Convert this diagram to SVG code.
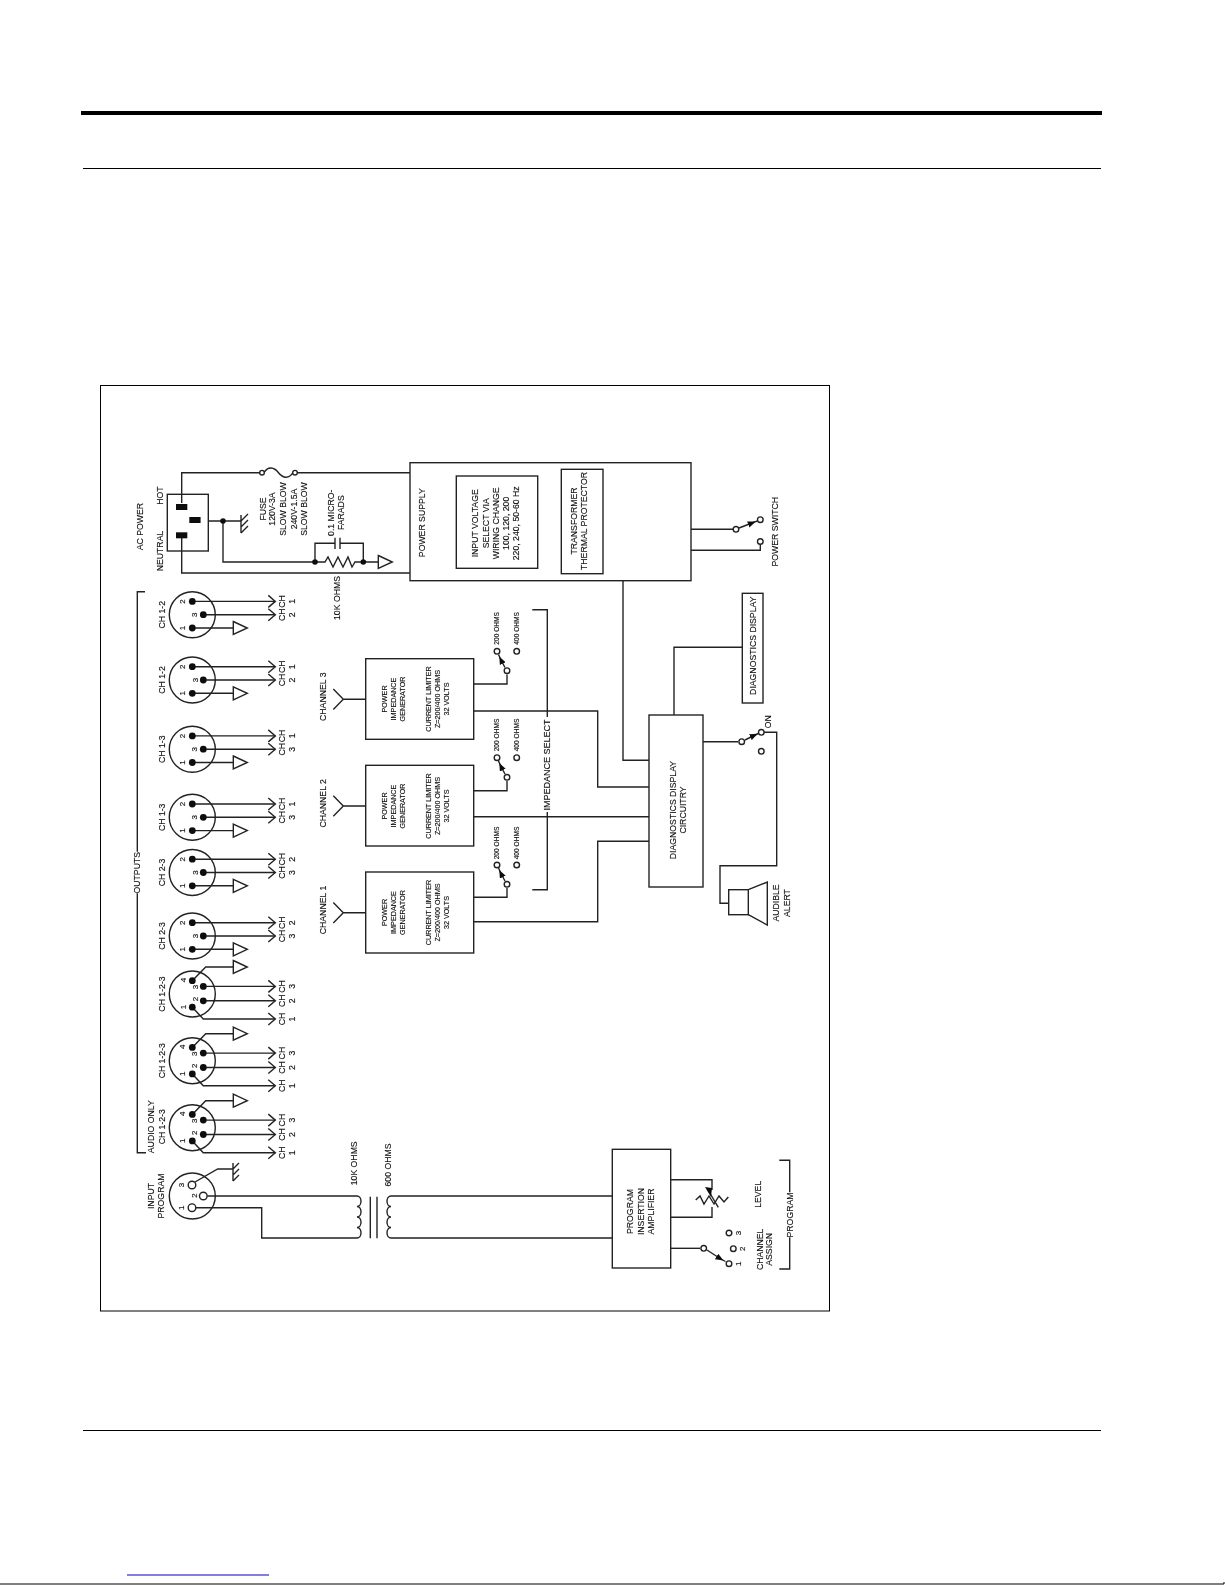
<svg xmlns="http://www.w3.org/2000/svg" xmlns:xlink="http://www.w3.org/1999/xlink" width="1225" height="1585" viewBox="0 0 1225 1585">
<style>
.w{fill:none;stroke:#222;stroke-width:1.4}
.o{fill:#fff;stroke:#222;stroke-width:1.4}
.d{fill:#111}
.r{stroke:#000;fill:none}
text{font-family:"Liberation Sans",Arial,sans-serif;fill:#111;stroke:#111;stroke-width:.15;text-anchor:middle;dominant-baseline:central;font-size:8.7px}
.s{font-size:7.2px}
.x{font-size:6.6px}
.n{font-size:8px}
</style>
<defs>
<filter id="soft" x="0" y="0" width="100%" height="100%"><feGaussianBlur stdDeviation="0.45"/></filter>
<marker id="sw" markerWidth="9" markerHeight="7" refX="4" refY="3.5" orient="auto" markerUnits="userSpaceOnUse"><path d="M0 0.3L8 3.5L0 6.7Z" fill="#111"/></marker>
<path id="chev" class="w" d="M-7-6L0 0L-7 6"/>
<path id="tri" class="o" d="M0-6.5L14 0L0 6.5Z"/>
<g id="xlr3">
<circle r="23" class="w"/>
<path class="w" d="M0-13.3H83M11 0H83M0 13.3H41"/>
<circle cy="-13.3" r="3.4" class="d"/><circle cx="11" r="3.4" class="d"/><circle cy="13.3" r="3.4" class="d"/>
<use href="#chev" x="83" y="-13.3"/><use href="#chev" x="83" y="0"/><use href="#tri" x="41" y="13.3"/>
</g>
<g id="xlr4">
<circle r="23" class="w"/>
<path class="w" d="M0-13.3L13.4-27H41M11-7.6H83M11 6.8H83M0 13.2L11 25H83"/>
<circle cy="-13.3" r="3.4" class="d"/><circle cx="11" cy="-7.6" r="3.4" class="d"/><circle cx="11" cy="6.8" r="3.4" class="d"/><circle cy="13.2" r="3.4" class="d"/>
<use href="#tri" x="41" y="-27"/><use href="#chev" x="83" y="-7.6"/><use href="#chev" x="83" y="6.8"/><use href="#chev" x="83" y="25"/>
</g>
<path id="ant" class="w" d="M-10-10.3L0 0L-10 10.3M0 0H22.4"/>
</defs>
<rect width="1225" height="1585" fill="#fff"/>
<g id="page-rules">
<rect x="81" y="111" width="1021" height="4" fill="#000"/>
<path class="r" d="M83 168.5H1101" stroke-width="1"/>
<path class="r" d="M83 1430.5H1101" stroke-width="1"/>
<path class="r" d="M127 1575H269" style="stroke:#0000c8" stroke-width="1"/>
<path class="r" d="M0 1584H1224V1582" stroke-width="1"/>
</g>
<rect id="frame" x="100.5" y="385.5" width="729" height="925.5" fill="none" stroke="#000" stroke-width="1"/>
<g filter="url(#soft)">
<g id="connectors">
<path class="w" d="M181.7 503V472.7H262M295 472.7H410"/>
<path class="w" d="M264 472.7C268 466 274 467 278.5 472.7S289 479 293 472.7"/>
<path class="w" d="M181.7 538V573H410"/>
<path class="w" d="M208.3 521H241M223 521V562H325L328 557L333 567L338 557L343 567L348 557L352 567L355 562H378M315 562V543.3H335M340 543.3H363.3V562"/>
<path class="w" d="M335 537.7V549M340 537.7V549"/>
<path class="w" d="M241 515V533M241 521L248 514M241 527L248 520M241 533L248 526"/>
<path class="w" d="M691 529.3H733M691 550.3H760.3V545"/>
<path class="w" marker-mid="url(#sw)" d="M739 528L752 523L757.5 520.8"/>
<path class="w" d="M623 580.7V760.3H649"/>
<path class="w" d="M742.3 647.3H674V715"/>
<path class="w" d="M473.7 711H597.7V787H649"/>
<path class="w" d="M473.7 816.7H649"/>
<path class="w" d="M473.7 921.7H597.7V841.3H649"/>
<path class="w" d="M703 741.7H738"/>
<path class="w" marker-mid="url(#sw)" d="M745 740L754 735.5L758.5 733.5"/>
<path class="w" d="M764 732.3H776.7V865.7H720V903.3H728.7"/>
<path class="w" d="M473.7 684H507V674.5"/>
<path class="w" d="M473.7 790.7H507V781"/>
<path class="w" d="M473.7 897.3H507V888"/>
<path class="w" marker-mid="url(#sw)" d="M505 667.5L501 660L498.5 654.5"/>
<path class="w" marker-mid="url(#sw)" d="M505 774L501 766.5L498.5 761"/>
<path class="w" marker-mid="url(#sw)" d="M505 881L501 873.5L498.5 868"/>
<path class="w" d="M532.3 609.7H547.3V717M547.3 812V889.7H532.3"/>
<path class="w" d="M145 591.7H137.3V851.7M137.3 893.3V1152.7H146"/>
<path class="w" d="M207.3 1196H357A4 5.25 0 0 1 357 1206.5A4 5.25 0 0 1 357 1217A4 5.25 0 0 1 357 1227.5A4 5.25 0 0 1 357 1238H261.7V1207.7H196"/>
<path class="w" d="M370.3 1196.7V1238.3M377 1196.7V1238.3"/>
<path class="w" d="M612.3 1196H391A4 5.25 0 0 0 391 1206.5A4 5.25 0 0 0 391 1217A4 5.25 0 0 0 391 1227.5A4 5.25 0 0 0 391 1238H612.3"/>
<path class="w" d="M195 1182L217.7 1169H233M233 1163V1181M233 1169L239 1163M233 1175L239 1169M233 1181L239 1175"/>
<path class="w" d="M670.7 1179.7H712V1190M712 1207V1217.3H670.7"/>
<path class="w" d="M695.7 1200L700 1196L704 1204L709 1196L714 1204L719 1196L724 1202L728.3 1197"/>
<path class="w" d="M708 1190L718.3 1207.3"/>
<path class="d" d="M705 1187L712 1188L711 1197Z"/>
<path class="w" d="M670.7 1248.3H700"/>
<path class="w" marker-mid="url(#sw)" d="M707 1250L720 1258.5L725.5 1261.5"/>
<path class="w" d="M779.3 1160.3H789.7V1192.3M789.7 1237.3V1269H779.3"/>
</g>
<g id="outputs-label"><text x="137" y="872.7" transform="rotate(-90 137 872.7)">OUTPUTS</text></g>
<g id="impedance-label"><text x="547.3" y="765" transform="rotate(-90 547.3 765)" style="font-size:9px">IMPEDANCE SELECT</text></g>
<g id="program-label"><text x="789.7" y="1215" transform="rotate(-90 789.7 1215)">PROGRAM</text></g>
<g id="ac-inlet">
<rect x="167.3" y="494.3" width="41" height="56.7" fill="none" class="w"/>
<rect x="176" y="504" width="11.3" height="6" class="d"/><rect x="189.3" y="517" width="11.3" height="6" class="d"/><rect x="176" y="532.3" width="11.3" height="6" class="d"/>
<circle cx="223" cy="521" r="2.8" class="d"/><circle cx="315" cy="562" r="2.8" class="d"/><circle cx="363.3" cy="562" r="2.8" class="d"/>
<circle cx="262" cy="472.7" r="2.3" class="o"/><circle cx="295" cy="472.7" r="2.3" class="o"/>
<use href="#tri" x="378.3" y="562"/>
<text x="140" y="526.7" transform="rotate(-90 140 526.7)">AC POWER</text>
<text x="160" y="495.7" transform="rotate(-90 160 495.7)">HOT</text>
<text x="160" y="551" transform="rotate(-90 160 551)">NEUTRAL</text>
<text x="262.7" y="509" transform="rotate(-90 262.7 509)">FUSE</text>
<text x="272.3" y="509" transform="rotate(-90 272.3 509)">120V-3A</text>
<text x="283" y="509" transform="rotate(-90 283 509)">SLOW BLOW</text>
<text x="293.7" y="509" transform="rotate(-90 293.7 509)">240V-1.5A</text>
<text x="303.7" y="509" transform="rotate(-90 303.7 509)">SLOW BLOW</text>
<text x="330.7" y="512.7" transform="rotate(-90 330.7 512.7)">0.1 MICRO-</text>
<text x="340.7" y="512.7" transform="rotate(-90 340.7 512.7)">FARADS</text>
<text x="336.7" y="598" transform="rotate(-90 336.7 598)">10K OHMS</text>
</g>
<g id="power-supply">
<rect x="410" y="462.7" width="281" height="118" fill="none" class="w"/>
<text x="422" y="522.7" transform="rotate(-90 422 522.7)">POWER SUPPLY</text>
<rect x="456.3" y="476" width="81.4" height="92.3" fill="none" class="w"/>
<text x="475" y="523.3" transform="rotate(-90 475 523.3)">INPUT VOLTAGE</text>
<text x="485.7" y="523.3" transform="rotate(-90 485.7 523.3)">SELECT VIA</text>
<text x="496" y="523.3" transform="rotate(-90 496 523.3)">WIRING CHANGE</text>
<text x="506.3" y="523.3" transform="rotate(-90 506.3 523.3)">100, 120, 200</text>
<text x="516.3" y="523.3" transform="rotate(-90 516.3 523.3)">220, 240, 50-60 Hz</text>
<rect x="561.3" y="469.3" width="41.7" height="104.4" fill="none" class="w"/>
<text x="573.7" y="521" transform="rotate(-90 573.7 521)">TRANSFORMER</text>
<text x="583.7" y="521" transform="rotate(-90 583.7 521)">THERMAL PROTECTOR</text>
</g>
<g id="power-switch">
<circle cx="736" cy="529.3" r="2.8" class="o"/><circle cx="760.3" cy="519.7" r="2.8" class="o"/><circle cx="760.3" cy="541.5" r="2.8" class="o"/>
<text x="775" y="531.7" transform="rotate(-90 775 531.7)">POWER SWITCH</text>
</g>
<g id="diagnostics-display">
<rect x="742.3" y="593.3" width="20.7" height="109.7" fill="none" class="w"/>
<text x="753.3" y="645.7" transform="rotate(-90 753.3 645.7)">DIAGNOSTICS DISPLAY</text>
</g>
<g id="diagnostics-circuitry">
<rect x="649" y="715" width="54" height="172" fill="none" class="w"/>
<text x="673" y="810" transform="rotate(-90 673 810)">DIAGNOSTICS DISPLAY</text>
<text x="683" y="810" transform="rotate(-90 683 810)">CIRCUITRY</text>
</g>
<g id="alert-switch">
<circle cx="741.7" cy="741.7" r="2.8" class="o"/><circle cx="761.3" cy="732.3" r="2.8" class="o"/><circle cx="761.3" cy="751.3" r="2.8" class="o"/>
<text x="768" y="721.7" transform="rotate(-90 768 721.7)">ON</text>
</g>
<g id="audible-alert">
<rect x="728.7" y="889.7" width="19.6" height="25" fill="none" class="w"/>
<path class="w" d="M748.3 889.7L767.3 882V925L748.3 914.7"/>
<text x="776" y="903" transform="rotate(-90 776 903)">AUDIBLE</text>
<text x="786.7" y="903" transform="rotate(-90 786.7 903)">ALERT</text>
</g>
<g id="channel-3">
<rect x="365.7" y="658.7" width="108" height="80.6" fill="none" class="w"/>
<use href="#ant" x="343.3" y="699.3"/>
<text x="322.7" y="696.7" transform="rotate(-90 322.7 696.7)">CHANNEL 3</text>
<text x="384.3" y="699" transform="rotate(-90 384.3 699)" class="s">POWER</text>
<text x="393.3" y="699" transform="rotate(-90 393.3 699)" class="s">IMPEDANCE</text>
<text x="402.3" y="699" transform="rotate(-90 402.3 699)" class="s">GENERATOR</text>
<text x="428.3" y="699" transform="rotate(-90 428.3 699)" class="s">CURRENT LIMITER</text>
<text x="437.3" y="699" transform="rotate(-90 437.3 699)" class="s">Z=200/400 OHMS</text>
<text x="446" y="699" transform="rotate(-90 446 699)" class="s">32 VOLTS</text>
<circle cx="507" cy="670.7" r="2.8" class="o"/><circle cx="497" cy="651.3" r="2.8" class="o"/><circle cx="516.7" cy="651.3" r="2.8" class="o"/>
<text x="496.7" y="628.3" transform="rotate(-90 496.7 628.3)" class="x">200 OHMS</text>
<text x="516.7" y="628.3" transform="rotate(-90 516.7 628.3)" class="x">400 OHMS</text>
</g>
<g id="channel-2">
<rect x="365.7" y="765.3" width="108" height="80.7" fill="none" class="w"/>
<use href="#ant" x="343.3" y="806"/>
<text x="322.7" y="803.3" transform="rotate(-90 322.7 803.3)">CHANNEL 2</text>
<text x="384.3" y="806" transform="rotate(-90 384.3 806)" class="s">POWER</text>
<text x="393.3" y="806" transform="rotate(-90 393.3 806)" class="s">IMPEDANCE</text>
<text x="402.3" y="806" transform="rotate(-90 402.3 806)" class="s">GENERATOR</text>
<text x="428.3" y="806" transform="rotate(-90 428.3 806)" class="s">CURRENT LIMITER</text>
<text x="437.3" y="806" transform="rotate(-90 437.3 806)" class="s">Z=200/400 OHMS</text>
<text x="446" y="806" transform="rotate(-90 446 806)" class="s">32 VOLTS</text>
<circle cx="507" cy="777.3" r="2.8" class="o"/><circle cx="497" cy="757.7" r="2.8" class="o"/><circle cx="516.7" cy="757.7" r="2.8" class="o"/>
<text x="496.7" y="735" transform="rotate(-90 496.7 735)" class="x">200 OHMS</text>
<text x="516.7" y="735" transform="rotate(-90 516.7 735)" class="x">400 OHMS</text>
</g>
<g id="channel-1">
<rect x="365.7" y="872" width="108" height="81" fill="none" class="w"/>
<use href="#ant" x="343.3" y="912.7"/>
<text x="322.7" y="910" transform="rotate(-90 322.7 910)">CHANNEL 1</text>
<text x="384.3" y="912.5" transform="rotate(-90 384.3 912.5)" class="s">POWER</text>
<text x="393.3" y="912.5" transform="rotate(-90 393.3 912.5)" class="s">IMPEDANCE</text>
<text x="402.3" y="912.5" transform="rotate(-90 402.3 912.5)" class="s">GENERATOR</text>
<text x="428.3" y="912.5" transform="rotate(-90 428.3 912.5)" class="s">CURRENT LIMITER</text>
<text x="437.3" y="912.5" transform="rotate(-90 437.3 912.5)" class="s">Z=200/400 OHMS</text>
<text x="446" y="912.5" transform="rotate(-90 446 912.5)" class="s">32 VOLTS</text>
<circle cx="507" cy="884.3" r="2.8" class="o"/><circle cx="497" cy="865" r="2.8" class="o"/><circle cx="516.7" cy="865" r="2.8" class="o"/>
<text x="496.7" y="843" transform="rotate(-90 496.7 843)" class="x">200 OHMS</text>
<text x="516.7" y="843" transform="rotate(-90 516.7 843)" class="x">400 OHMS</text>
</g>
<g id="out-1"><use href="#xlr3" x="192.3" y="614.7"/>
<text x="161.7" y="614.7" transform="rotate(-90 161.7 614.7)">CH 1-2</text>
<text x="182.7" y="601.4" transform="rotate(-90 182.7 601.4)" class="n">2</text><text x="195" y="614.7" transform="rotate(-90 195 614.7)" class="n">3</text><text x="182.7" y="628" transform="rotate(-90 182.7 628)" class="n">1</text>
<text x="281.7" y="601.4" transform="rotate(-90 281.7 601.4)">CH</text><text x="281.7" y="614.7" transform="rotate(-90 281.7 614.7)">CH</text>
<text x="291.7" y="601.4" transform="rotate(-90 291.7 601.4)">1</text><text x="291.7" y="614.7" transform="rotate(-90 291.7 614.7)">2</text></g>
<g id="out-2"><use href="#xlr3" x="192.3" y="680"/>
<text x="161.7" y="680" transform="rotate(-90 161.7 680)">CH 1-2</text>
<text x="182.7" y="666.7" transform="rotate(-90 182.7 666.7)" class="n">2</text><text x="195" y="680" transform="rotate(-90 195 680)" class="n">3</text><text x="182.7" y="693.3" transform="rotate(-90 182.7 693.3)" class="n">1</text>
<text x="281.7" y="666.7" transform="rotate(-90 281.7 666.7)">CH</text><text x="281.7" y="680" transform="rotate(-90 281.7 680)">CH</text>
<text x="291.7" y="666.7" transform="rotate(-90 291.7 666.7)">1</text><text x="291.7" y="680" transform="rotate(-90 291.7 680)">2</text></g>
<g id="out-3"><use href="#xlr3" x="192.3" y="749.2"/>
<text x="161.7" y="749.2" transform="rotate(-90 161.7 749.2)">CH 1-3</text>
<text x="182.7" y="735.9" transform="rotate(-90 182.7 735.9)" class="n">2</text><text x="195" y="749.2" transform="rotate(-90 195 749.2)" class="n">3</text><text x="182.7" y="762.5" transform="rotate(-90 182.7 762.5)" class="n">1</text>
<text x="281.7" y="735.9" transform="rotate(-90 281.7 735.9)">CH</text><text x="281.7" y="749.2" transform="rotate(-90 281.7 749.2)">CH</text>
<text x="291.7" y="735.9" transform="rotate(-90 291.7 735.9)">1</text><text x="291.7" y="749.2" transform="rotate(-90 291.7 749.2)">3</text></g>
<g id="out-4"><use href="#xlr3" x="192.3" y="817.3"/>
<text x="161.7" y="817.3" transform="rotate(-90 161.7 817.3)">CH 1-3</text>
<text x="182.7" y="804" transform="rotate(-90 182.7 804)" class="n">2</text><text x="195" y="817.3" transform="rotate(-90 195 817.3)" class="n">3</text><text x="182.7" y="830.6" transform="rotate(-90 182.7 830.6)" class="n">1</text>
<text x="281.7" y="804" transform="rotate(-90 281.7 804)">CH</text><text x="281.7" y="817.3" transform="rotate(-90 281.7 817.3)">CH</text>
<text x="291.7" y="804" transform="rotate(-90 291.7 804)">1</text><text x="291.7" y="817.3" transform="rotate(-90 291.7 817.3)">3</text></g>
<g id="out-5"><use href="#xlr3" x="192.3" y="872.5"/>
<text x="161.7" y="872.5" transform="rotate(-90 161.7 872.5)">CH 2-3</text>
<text x="182.7" y="859.2" transform="rotate(-90 182.7 859.2)" class="n">2</text><text x="195" y="872.5" transform="rotate(-90 195 872.5)" class="n">3</text><text x="182.7" y="885.8" transform="rotate(-90 182.7 885.8)" class="n">1</text>
<text x="281.7" y="859.2" transform="rotate(-90 281.7 859.2)">CH</text><text x="281.7" y="872.5" transform="rotate(-90 281.7 872.5)">CH</text>
<text x="291.7" y="859.2" transform="rotate(-90 291.7 859.2)">2</text><text x="291.7" y="872.5" transform="rotate(-90 291.7 872.5)">3</text></g>
<g id="out-6"><use href="#xlr3" x="192.3" y="936"/>
<text x="161.7" y="936" transform="rotate(-90 161.7 936)">CH 2-3</text>
<text x="182.7" y="922.7" transform="rotate(-90 182.7 922.7)" class="n">2</text><text x="195" y="936" transform="rotate(-90 195 936)" class="n">3</text><text x="182.7" y="949.3" transform="rotate(-90 182.7 949.3)" class="n">1</text>
<text x="281.7" y="922.7" transform="rotate(-90 281.7 922.7)">CH</text><text x="281.7" y="936" transform="rotate(-90 281.7 936)">CH</text>
<text x="291.7" y="922.7" transform="rotate(-90 291.7 922.7)">2</text><text x="291.7" y="936" transform="rotate(-90 291.7 936)">3</text></g>
<g id="out-7"><use href="#xlr4" x="192.3" y="994"/>
<text x="161.7" y="994" transform="rotate(-90 161.7 994)">CH 1-2-3</text>
<text x="183" y="980" transform="rotate(-90 183 980)" class="n">4</text><text x="195" y="987" transform="rotate(-90 195 987)" class="n">3</text><text x="195" y="999" transform="rotate(-90 195 999)" class="n">2</text><text x="183" y="1007" transform="rotate(-90 183 1007)" class="n">1</text>
<text x="281.7" y="986.4" transform="rotate(-90 281.7 986.4)">CH</text><text x="281.7" y="1000.8" transform="rotate(-90 281.7 1000.8)">CH</text><text x="281.7" y="1019" transform="rotate(-90 281.7 1019)">CH</text>
<text x="291.7" y="986.4" transform="rotate(-90 291.7 986.4)">3</text><text x="291.7" y="1000.8" transform="rotate(-90 291.7 1000.8)">2</text><text x="291.7" y="1019" transform="rotate(-90 291.7 1019)">1</text></g>
<g id="out-8"><use href="#xlr4" x="192.3" y="1060.7"/>
<text x="161.7" y="1060.7" transform="rotate(-90 161.7 1060.7)">CH 1-2-3</text>
<text x="183" y="1046.7" transform="rotate(-90 183 1046.7)" class="n">4</text><text x="195" y="1053.7" transform="rotate(-90 195 1053.7)" class="n">3</text><text x="195" y="1065.7" transform="rotate(-90 195 1065.7)" class="n">2</text><text x="183" y="1073.7" transform="rotate(-90 183 1073.7)" class="n">1</text>
<text x="281.7" y="1053.1" transform="rotate(-90 281.7 1053.1)">CH</text><text x="281.7" y="1067.5" transform="rotate(-90 281.7 1067.5)">CH</text><text x="281.7" y="1085.7" transform="rotate(-90 281.7 1085.7)">CH</text>
<text x="291.7" y="1053.1" transform="rotate(-90 291.7 1053.1)">3</text><text x="291.7" y="1067.5" transform="rotate(-90 291.7 1067.5)">2</text><text x="291.7" y="1085.7" transform="rotate(-90 291.7 1085.7)">1</text></g>
<g id="out-9"><use href="#xlr4" x="192.3" y="1127.7"/>
<text x="150.7" y="1126.7" transform="rotate(-90 150.7 1126.7)">AUDIO ONLY</text>
<text x="161.7" y="1126.7" transform="rotate(-90 161.7 1126.7)">CH 1-2-3</text>
<text x="183" y="1113.7" transform="rotate(-90 183 1113.7)" class="n">4</text><text x="195" y="1120.7" transform="rotate(-90 195 1120.7)" class="n">3</text><text x="195" y="1132.7" transform="rotate(-90 195 1132.7)" class="n">2</text><text x="183" y="1140.7" transform="rotate(-90 183 1140.7)" class="n">1</text>
<text x="281.7" y="1120.1" transform="rotate(-90 281.7 1120.1)">CH</text><text x="281.7" y="1134.5" transform="rotate(-90 281.7 1134.5)">CH</text><text x="281.7" y="1152.7" transform="rotate(-90 281.7 1152.7)">CH</text>
<text x="291.7" y="1120.1" transform="rotate(-90 291.7 1120.1)">3</text><text x="291.7" y="1134.5" transform="rotate(-90 291.7 1134.5)">2</text><text x="291.7" y="1152.7" transform="rotate(-90 291.7 1152.7)">1</text></g>
<g id="input-program">
<circle cx="192.3" cy="1196" r="23" class="w"/>
<circle cx="192" cy="1185" r="3.8" class="o"/><circle cx="203.3" cy="1196" r="3.8" class="o"/><circle cx="192" cy="1207.7" r="3.8" class="o"/>
<text x="181.7" y="1185" transform="rotate(-90 181.7 1185)" class="n">3</text><text x="194" y="1195.5" transform="rotate(-90 194 1195.5)" class="n">2</text><text x="181.7" y="1207.7" transform="rotate(-90 181.7 1207.7)" class="n">1</text>
<text x="150.7" y="1196" transform="rotate(-90 150.7 1196)">INPUT</text>
<text x="161" y="1196" transform="rotate(-90 161 1196)">PROGRAM</text>
<text x="354.3" y="1163.3" transform="rotate(-90 354.3 1163.3)">10K OHMS</text>
<text x="387.7" y="1165" transform="rotate(-90 387.7 1165)">600 OHMS</text>
</g>
<g id="program-amp">
<rect x="612.3" y="1149.3" width="58.4" height="118.7" fill="none" class="w"/>
<text x="630" y="1211.5" transform="rotate(-90 630 1211.5)">PROGRAM</text>
<text x="640.7" y="1211.5" transform="rotate(-90 640.7 1211.5)">INSERTION</text>
<text x="651" y="1211.5" transform="rotate(-90 651 1211.5)">AMPLIFIER</text>
</g>
<g id="channel-assign">
<circle cx="703.7" cy="1248.3" r="2.8" class="o"/><circle cx="729" cy="1263.7" r="2.8" class="o"/><circle cx="733.3" cy="1248.7" r="2.8" class="o"/><circle cx="729" cy="1233" r="2.8" class="o"/>
<text x="738.3" y="1263.7" transform="rotate(-90 738.3 1263.7)" class="n">1</text><text x="742.3" y="1248.7" transform="rotate(-90 742.3 1248.7)" class="n">2</text><text x="738.3" y="1233" transform="rotate(-90 738.3 1233)" class="n">3</text>
<text x="760" y="1249.3" transform="rotate(-90 760 1249.3)">CHANNEL</text>
<text x="769.3" y="1249.3" transform="rotate(-90 769.3 1249.3)">ASSIGN</text>
<text x="758.3" y="1194.3" transform="rotate(-90 758.3 1194.3)">LEVEL</text>
</g>
</g>
</svg>
